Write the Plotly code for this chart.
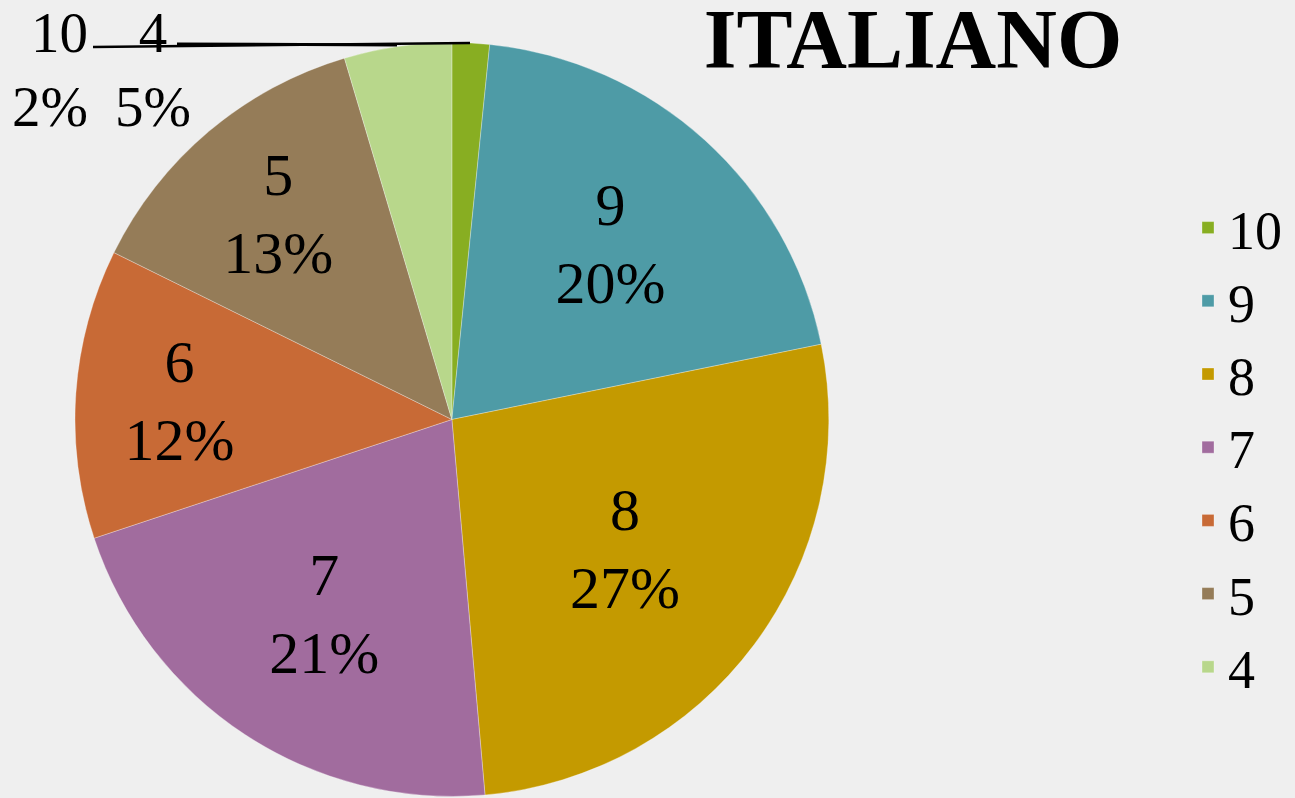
import plotly.graph_objects as go

# voti di italiano
labels = ["10", "9", "8", "7", "6", "5", "4"]
values = [1.6, 20.2, 26.8, 21.3, 12.4, 13.1, 4.6]
colors = ["#88AE22", "#4E9BA6", "#C49A00", "#A16C9E", "#C86A36", "#957C58", "#B8D78B"]

SERIF = "Liberation Serif, Times New Roman, serif"
total = sum(values)
pct = [round(v / total * 100) for v in values]

# le due fette piccole hanno l'etichetta fuori, in alto a sinistra
templates = ["" if l in ("10", "4") else "%{label}<br>%{percent:.0%}" for l in labels]

fig = go.Figure()
fig.add_trace(go.Pie(
    labels=labels,
    values=values,
    sort=False,
    direction="clockwise",
    rotation=0,
    marker=dict(colors=colors, line=dict(color="rgba(255,255,255,0.5)", width=0.6)),
    texttemplate=templates,
    textposition="inside",
    insidetextorientation="horizontal",
    textfont=dict(family=SERIF, size=60, color="black"),
    hoverinfo="label+percent",
    domain=dict(x=[0.0579, 0.640], y=[0.00125, 0.9474]),
))

# etichette esterne 10 e 4
i10, i4 = labels.index("10"), labels.index("4")
fig.add_annotation(x=90 / 1295, y=1 + 1 / 798, xref="paper", yref="paper",
                   xanchor="right", yanchor="top", align="right", showarrow=False,
                   text=f"{labels[i10]}<br>{pct[i10]}%",
                   font=dict(family=SERIF, size=57, color="black"))
fig.add_annotation(x=153 / 1295, y=1 + 1 / 798, xref="paper", yref="paper",
                   xanchor="center", yanchor="top", align="center", showarrow=False,
                   text=f"{labels[i4]}<br>{pct[i4]}%",
                   font=dict(family=SERIF, size=57, color="black"))
# linee guida
fig.add_shape(type="line", xref="paper", yref="paper",
              x0=93 / 1295, y0=1 - 47 / 798, x1=470 / 1295, y1=1 - 43 / 798,
              line=dict(color="black", width=2.5))
fig.add_shape(type="line", xref="paper", yref="paper",
              x0=177 / 1295, y0=1 - 44 / 798, x1=397 / 1295, y1=1 - 45 / 798,
              line=dict(color="black", width=3))

fig.update_layout(
    width=1295, height=798,
    margin=dict(l=0, r=0, t=0, b=0),
    paper_bgcolor="#EFEFEF",
    plot_bgcolor="#EFEFEF",
    title=dict(text="<b>ITALIANO</b>", x=913 / 1295, xanchor="center",
               y=1 - 9 / 798, yanchor="top",
               font=dict(family=SERIF, size=84, color="black")),
    legend=dict(x=1188 / 1295, xanchor="left", y=1 - 186 / 798, yanchor="top",
                font=dict(family=SERIF, size=54, color="black"),
                bgcolor="rgba(0,0,0,0)", itemwidth=30),
    showlegend=True,
)

fig.write_html("out.html", config={"displayModeBar": False},
               post_script="document.body.style.margin='0';")
